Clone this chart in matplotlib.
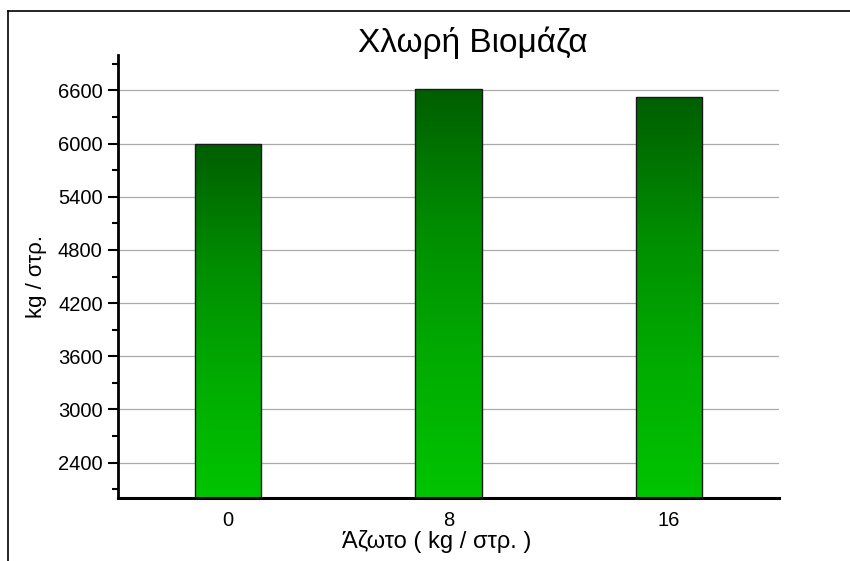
import numpy as np
import matplotlib.pyplot as plt
from matplotlib.colors import LinearSegmentedColormap
from matplotlib.lines import Line2D
from matplotlib.ticker import MultipleLocator

plt.rcParams['font.family'] = ['Liberation Sans', 'DejaVu Sans']

# data
categories = ['0', '8', '16']
biomass = [5990, 6620, 6530]
yticks = [2400, 3000, 3600, 4200, 4800, 5400, 6000, 6600]

fig = plt.figure(figsize=(8.5, 5.61), dpi=100)
ax = fig.add_axes([118 / 850, 63 / 561, 661 / 850, 443 / 561])

x = np.arange(len(categories))
ymin, ymax = 2000, 7000
bars = ax.bar(x, biomass, width=0.3, color='none', edgecolor='#1a1a1a',
              linewidth=1.0, zorder=3)

# vertical gradient inside each bar
cmap = LinearSegmentedColormap.from_list('grn', ['#00c400', '#00ac00', '#008c00', '#005e00'])
grad = np.linspace(0, 1, 256).reshape(-1, 1)
for b in bars:
    x0, w, h = b.get_x(), b.get_width(), b.get_height()
    im = ax.imshow(grad, cmap=cmap, aspect='auto', origin='lower',
                   extent=[x0, x0 + w, ymin, h], zorder=2)
    im.set_clip_path(b)

ax.set_xlim(-0.5, 2.5)
ax.set_ylim(ymin, ymax)
ax.set_xticks(x)
ax.set_xticklabels(categories)
ax.set_yticks(yticks)
ax.yaxis.set_minor_locator(MultipleLocator(300))
ax.tick_params(axis='y', which='major', length=7, width=1.5, labelsize=14.5, pad=4)
ax.tick_params(axis='y', which='minor', length=4, width=1.5)
ax.tick_params(axis='x', length=0, labelsize=14.5, pad=9)

ax.grid(axis='y', color='#aaaaaa', linewidth=0.9, zorder=0)
ax.set_axisbelow(True)
for s in ['top', 'right']:
    ax.spines[s].set_visible(False)
ax.spines['left'].set_linewidth(2)
ax.spines['bottom'].set_linewidth(2.2)

ax.set_xlabel('Άζωτο ( kg / στρ. )', fontsize=17, labelpad=0)
ax.xaxis.set_label_coords((437 - 118) / 661, -0.072)
ax.set_ylabel('kg / στρ.', fontsize=16, labelpad=8)
fig.text(473 / 850, 1 - 43 / 561, 'Χλωρή Βιομάζα', fontsize=24, ha='center', va='center')

# outer frame (cropped on the right and bottom)
fig.add_artist(Line2D([8 / 850, 1], [1 - 11 / 561, 1 - 11 / 561], color='black', lw=1.2))
fig.add_artist(Line2D([8 / 850, 8 / 850], [0, 1 - 11 / 561], color='black', lw=1.2))

fig.savefig('out.png', dpi=100)
